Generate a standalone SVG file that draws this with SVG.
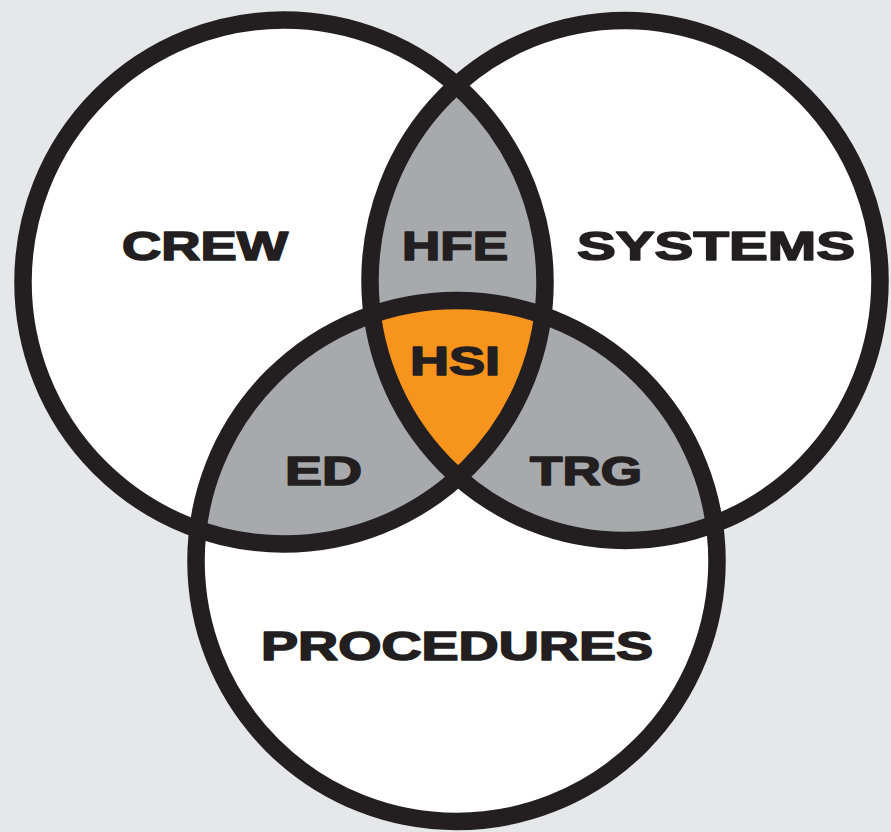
<svg xmlns="http://www.w3.org/2000/svg" width="891" height="832" viewBox="0 0 891 832">
  <style>
    .ring { fill: none; stroke: #231f20; stroke-width: 17.5; }
    .base { fill: #ffffff; }
    .lens { fill: #a7a9ac; }
    .core { fill: #f7941d; }
    .lbl { font-family: "Liberation Sans", Arial, sans-serif; font-weight: bold; font-size: 40px; fill: #231f20; stroke: #231f20; stroke-width: 1.6; stroke-linejoin: round; }
  </style>
  <defs>
    <ellipse id="shapeL" cx="284" cy="282" rx="261" ry="262"/>
    <ellipse id="shapeR" cx="625" cy="280.5" rx="255" ry="260"/>
    <circle id="shapeB" cx="456.5" cy="561" r="260.5"/>
    <clipPath id="clipL"><use href="#shapeL"/></clipPath>
    <clipPath id="clipR"><use href="#shapeR"/></clipPath>
  </defs>
  <rect x="0" y="0" width="891" height="832" fill="#e6e7e8"/>

  <g id="fills">
    <use href="#shapeL" class="base"/>
    <use href="#shapeR" class="base"/>
    <use href="#shapeB" class="base"/>
    <g clip-path="url(#clipL)">
      <use href="#shapeR" class="lens"/>
      <use href="#shapeB" class="lens"/>
    </g>
    <g clip-path="url(#clipR)">
      <use href="#shapeB" class="lens"/>
    </g>
    <g clip-path="url(#clipL)">
      <g clip-path="url(#clipR)">
        <use href="#shapeB" class="core"/>
      </g>
    </g>
  </g>

  <g id="crew">
    <use href="#shapeL" class="ring"/>
    <text class="lbl" x="122" y="260" textLength="166" lengthAdjust="spacingAndGlyphs">CREW</text>
  </g>
  <g id="systems">
    <use href="#shapeR" class="ring"/>
    <text class="lbl" x="577" y="260" textLength="278" lengthAdjust="spacingAndGlyphs">SYSTEMS</text>
  </g>
  <g id="procedures">
    <use href="#shapeB" class="ring"/>
    <text class="lbl" x="261" y="660" textLength="392" lengthAdjust="spacingAndGlyphs">PROCEDURES</text>
  </g>
  <g id="hfe">
    <text class="lbl" x="402" y="260" textLength="106" lengthAdjust="spacingAndGlyphs">HFE</text>
  </g>
  <g id="ed">
    <text class="lbl" x="285" y="485" textLength="77" lengthAdjust="spacingAndGlyphs">ED</text>
  </g>
  <g id="trg">
    <text class="lbl" x="530" y="485" textLength="112" lengthAdjust="spacingAndGlyphs">TRG</text>
  </g>
  <g id="hsi">
    <text class="lbl" x="410" y="375" textLength="90" lengthAdjust="spacingAndGlyphs">HSI</text>
  </g>
  <g id="connectors"></g>
</svg>
